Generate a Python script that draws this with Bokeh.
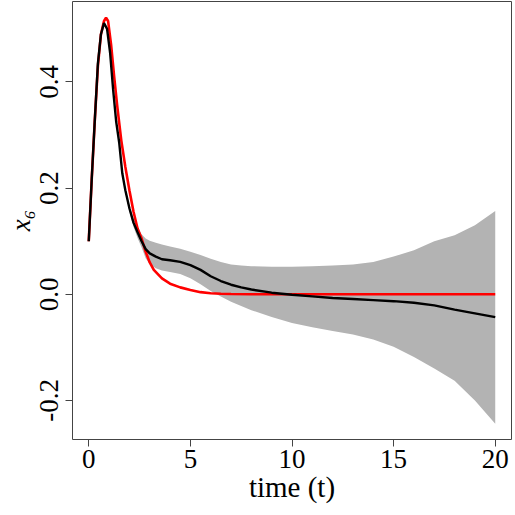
from bokeh.plotting import figure
from bokeh.models import FixedTicker, NumeralTickFormatter, Range1d
from bokeh.embed import file_html
from bokeh.resources import INLINE

# True trajectory (red)
t_true = [0, 0.15, 0.3, 0.45, 0.6, 0.75, 0.85, 0.95, 1.1, 1.25, 1.4, 1.6, 1.8, 2.0, 2.2,
          2.4, 2.6, 2.8, 3.0, 3.2, 3.6, 4.0, 4.5, 5.0, 5.5, 6.0, 6.5, 7.0, 8.0, 10, 12, 15, 20]
x_true = [0.10, 0.22, 0.33, 0.43, 0.49, 0.515, 0.521, 0.515, 0.47, 0.41, 0.355, 0.29, 0.24,
          0.196, 0.156, 0.124, 0.105, 0.08, 0.06, 0.046, 0.03, 0.02, 0.013, 0.008, 0.004,
          0.002, 0.001, 0.0005, 0.0, 0.0, 0.0, 0.0, 0.0]

# Posterior mean (black) and credible band (gray)
t_est = [0, 0.15, 0.3, 0.45, 0.6, 0.75, 0.9, 1.05, 1.2, 1.35, 1.5, 1.65, 1.8, 2.0, 2.2, 2.4,
         2.6, 2.8, 3.0, 3.3, 3.6, 4.0, 4.5, 5.0, 5.5, 6.0, 6.5, 7.0, 7.5, 8.0, 9, 10, 11, 12,
         13, 14, 15, 16, 17, 18, 19, 20]
x_mean = [0.10, 0.22, 0.33, 0.435, 0.49, 0.511, 0.50, 0.455, 0.385, 0.325, 0.285, 0.228,
          0.196, 0.162, 0.135, 0.117, 0.100, 0.085, 0.077, 0.071, 0.066, 0.064, 0.061, 0.055,
          0.046, 0.034, 0.025, 0.018, 0.013, 0.009, 0.003, -0.001, -0.004, -0.007, -0.009,
          -0.011, -0.013, -0.016, -0.021, -0.029, -0.036, -0.043]
x_upper = [0.103, 0.223, 0.333, 0.438, 0.493, 0.514, 0.503, 0.458, 0.388, 0.328, 0.288,
           0.232, 0.201, 0.168, 0.143, 0.128, 0.113, 0.105, 0.101, 0.097, 0.094, 0.090,
           0.086, 0.080, 0.074, 0.067, 0.061, 0.056, 0.054, 0.053, 0.052, 0.052, 0.053,
           0.054, 0.056, 0.061, 0.071, 0.083, 0.100, 0.111, 0.130, 0.157]
x_lower = [0.097, 0.217, 0.327, 0.432, 0.487, 0.508, 0.497, 0.452, 0.382, 0.322, 0.282,
           0.224, 0.191, 0.156, 0.127, 0.106, 0.088, 0.068, 0.057, 0.049, 0.045, 0.042,
           0.038, 0.030, 0.019, 0.006, -0.004, -0.014, -0.022, -0.030, -0.043, -0.054,
           -0.062, -0.069, -0.076, -0.085, -0.099, -0.118, -0.140, -0.163, -0.200, -0.244]

x_ticks = [0, 5, 10, 15, 20]
y_ticks = [-0.2, 0.0, 0.2, 0.4]

FONT = "Liberation Serif"

p = figure(width=512, height=511, output_backend="svg", toolbar_location=None,
           x_range=Range1d(-0.8, 20.8), y_range=Range1d(-0.2736, 0.5516),
           min_border_left=72, min_border_right=1, min_border_top=1, min_border_bottom=72)

p.varea(x=t_est, y1=x_lower, y2=x_upper, fill_color="#B3B3B3", fill_alpha=1.0)
p.line(t_true, x_true, line_color="#FF0000", line_width=2.6)
p.line(t_est, x_mean, line_color="black", line_width=2.4)

p.grid.visible = False
p.outline_line_color = "#444444"
p.outline_line_width = 1
p.background_fill_color = "white"
p.border_fill_color = "white"

for ax in (p.xaxis[0], p.yaxis[0]):
    ax.axis_line_color = None
    ax.minor_tick_line_color = None
    ax.major_tick_in = 0
    ax.major_tick_out = 7
    ax.major_tick_line_color = "#444444"
    ax.major_label_text_font = FONT
    ax.major_label_text_font_size = "27px"
    ax.major_label_text_color = "black"
    ax.axis_label_text_font = FONT
    ax.axis_label_text_font_style = "normal"
    ax.axis_label_text_color = "black"

p.xaxis.axis_label_text_font_size = "29px"
p.yaxis.axis_label_text_font_size = "27px"
p.xaxis.ticker = FixedTicker(ticks=x_ticks)
p.yaxis.ticker = FixedTicker(ticks=y_ticks)
p.yaxis.formatter = NumeralTickFormatter(format="0.0")
p.yaxis.major_label_orientation = "vertical"
p.xaxis.major_label_standoff = 3
p.yaxis.major_label_standoff = 7
p.xaxis.axis_label = "time (t)"
p.yaxis.axis_label = "x\u2086"
p.yaxis.axis_label_text_font_style = "italic"
p.xaxis.axis_label_standoff = 0
p.yaxis.axis_label_standoff = 2

open("out.html", "w").write(file_html(p, INLINE))
